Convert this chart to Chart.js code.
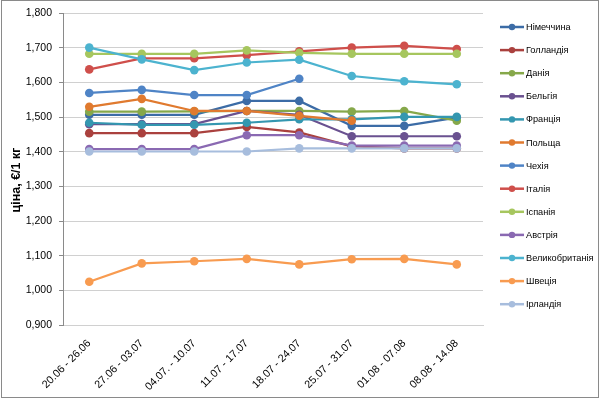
<!DOCTYPE html>
<html>
<head>
<meta charset="utf-8">
<script src="https://cdn.jsdelivr.net/npm/chart.js@4/dist/chart.umd.min.js"></script>
<style>
  html, body { margin: 0; padding: 0; background: #fff; }
  #wrap { width: 600px; height: 399px; position: relative; }
</style>
</head>
<body>
<div id="wrap"><canvas id="priceChart" width="600" height="399"></canvas></div>
<script>
const weeks = ['20.06 - 26.06', '27.06 - 03.07', '04.07. - 10.07', '11.07 - 17.07',
               '18.07 - 24.07', '25.07 - 31.07', '01.08 - 07.08', '08.08 - 14.08'];

const countries = ['Німеччина', 'Голландія', 'Данія', 'Бельгія', 'Франція', 'Польща',
                   'Чехія', 'Італія', 'Іспанія', 'Австрія', 'Великобританія', 'Швеція', 'Ірландія'];

const germany   = [1.507, 1.507, 1.507, 1.547, 1.547, 1.475, 1.475, 1.499];
const holland   = [1.454, 1.454, 1.454, 1.472, 1.456, 1.416, 1.410, 1.410];
const denmark   = [1.516, 1.516, 1.517, 1.518, 1.518, 1.516, 1.518, 1.490];
const belgium   = [1.480, 1.480, 1.480, 1.518, 1.507, 1.445, 1.445, 1.445];
const france    = [1.484, 1.478, 1.478, 1.484, 1.494, 1.494, 1.501, 1.501];
const poland    = [1.530, 1.553, 1.518, 1.518, 1.504, 1.490, null, null];
const czechia   = [1.570, 1.579, 1.564, 1.564, 1.611, null, null, null];
const italy     = [1.638, 1.670, 1.670, 1.679, 1.690, 1.701, 1.706, 1.697];
const spain     = [1.683, 1.683, 1.683, 1.693, 1.686, 1.683, 1.683, 1.683];
const austria   = [1.408, 1.408, 1.408, 1.448, 1.448, 1.418, 1.418, 1.418];
const britain   = [1.701, 1.667, 1.636, 1.658, 1.666, 1.619, 1.604, 1.595];
const sweden    = [1.025, 1.078, 1.084, 1.091, 1.075, 1.090, 1.091, 1.075];
const ireland   = [1.401, 1.401, 1.401, 1.401, 1.410, 1.410, 1.410, 1.410];

const seriesData = [germany, holland, denmark, belgium, france, poland,
                    czechia, italy, spain, austria, britain, sweden, ireland];
const colors = ['#3c6ca6', '#aa413e', '#86a84a', '#6a5190', '#3497b0', '#e07a2f',
                '#4f84c6', '#cf4f4b', '#a6c65e', '#8a69b2', '#4cb3cf', '#f89b50', '#a7bddd'];

const FONT = "'Liberation Sans', Arial, sans-serif";

// frame, axis title and line+marker legend, Excel style
const decorPlugin = {
  id: 'decor',
  afterDraw(chart) {
    const c = chart.ctx;
    c.save();
    c.strokeStyle = '#8a8a8a'; c.lineWidth = 1;
    c.strokeRect(1.5, 0.5, 597, 397);

    c.translate(17, 180); c.rotate(-Math.PI / 2);
    c.font = `bold 12.5px ${FONT}`; c.fillStyle = '#000';
    c.textAlign = 'center'; c.textBaseline = 'middle';
    c.fillText('ціна, €/1 кг', 0, 0);
    c.restore();

    c.save();
    c.font = `9.2px ${FONT}`; c.textBaseline = 'middle'; c.fillStyle = '#000';
    countries.forEach((name, i) => {
      const y = 27 + i * 23.1;
      c.strokeStyle = colors[i]; c.lineWidth = 2.5;
      c.beginPath(); c.moveTo(500, y); c.lineTo(524, y); c.stroke();
      c.fillStyle = colors[i];
      c.beginPath(); c.arc(512, y, 3.2, 0, Math.PI * 2); c.fill();
      c.fillStyle = '#000';
      c.fillText(name, 526, y + 0.5);
    });
    c.restore();
  }
};

new Chart(document.getElementById('priceChart'), {
  type: 'line',
  data: {
    labels: weeks,
    datasets: countries.map((name, i) => ({
      label: name, data: seriesData[i],
      borderColor: colors[i], backgroundColor: colors[i],
      pointBackgroundColor: colors[i], pointBorderColor: colors[i],
      borderWidth: 2.2, pointRadius: 4.3, pointBorderWidth: 0,
      tension: 0, order: countries.length - i
    }))
  },
  options: {
    responsive: false, animation: false,
    layout: { padding: { top: 12, right: 117, bottom: 0, left: 0 } },
    plugins: { legend: { display: false }, tooltip: { enabled: false } },
    scales: {
      x: {
        offset: true,
        grid: { display: false },
        border: { display: true, color: '#d0d0d0' },
        ticks: { color: '#000', font: { family: FONT, size: 10.8 }, minRotation: 45, maxRotation: 45, padding: 4 },
        afterFit: s => { s.height = 74; }
      },
      y: {
        min: 0.9, max: 1.8,
        grid: { color: '#d0d0d0', tickColor: '#8a8a8a', tickLength: 4 },
        border: { color: '#8a8a8a' },
        ticks: {
          stepSize: 0.1, color: '#000', padding: 7,
          font: { family: FONT, size: 10.5 },
          callback: v => v.toFixed(3).replace('.', ',')
        },
        afterFit: s => { s.width = 63; }
      }
    }
  },
  plugins: [decorPlugin]
});
</script>
</body>
</html>
